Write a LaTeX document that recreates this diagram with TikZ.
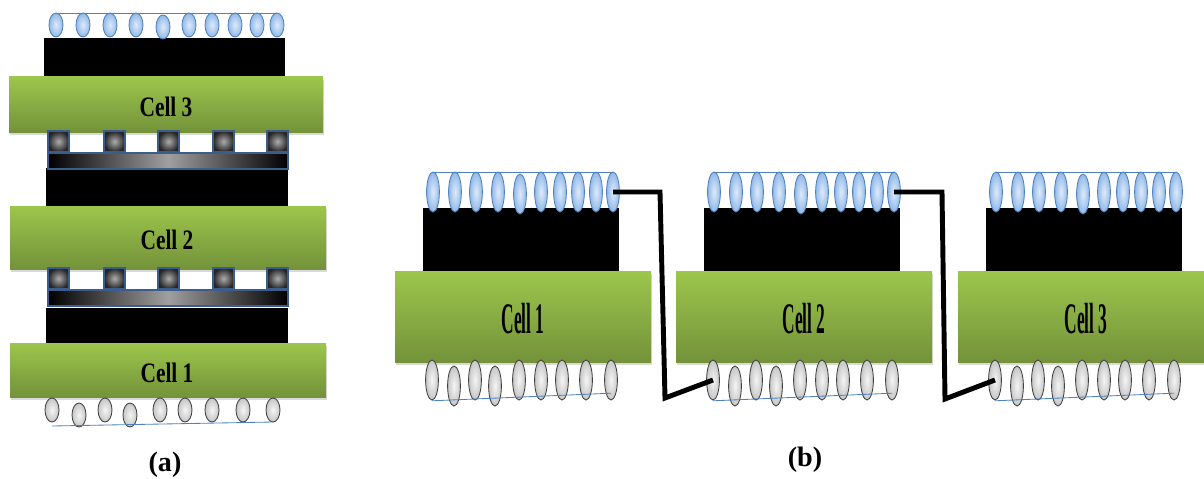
\documentclass[tikz,border=0pt]{standalone}
\usepackage{fontspec}
\setmainfont{Liberation Serif}
\usepackage{graphicx}
\usetikzlibrary{shapes.geometric, shadows}

\definecolor{cellgreen}{RGB}{156,198,76}
\definecolor{cellgreendark}{RGB}{116,146,58}
\definecolor{beadedge}{RGB}{79,129,189}
\definecolor{beadlight}{RGB}{222,234,250}
\definecolor{beaddark}{RGB}{145,185,232}
\definecolor{gridblue}{RGB}{60,92,140}

\begin{document}
\begin{tikzpicture}[
      x=0.025cm, y=-0.025cm,
      cellbar/.style={
        top color=cellgreen,
        bottom color=cellgreendark,
        drop shadow={shadow xshift=1pt, shadow yshift=-2pt, opacity=0.3}
      },
      bluebead/.style={
        ellipse, draw=beadedge, line width=0.6pt,
        inner color=beadlight, outer color=beaddark,
        inner sep=0pt, outer sep=0pt
      },
      graybead/.style={
        ellipse, draw=black!75, line width=0.6pt,
        inner color=gray!8, outer color=gray!45,
        inner sep=0pt, outer sep=0pt
      },
      beada/.style={minimum width=0.35cm, minimum height=0.6cm},
      beadb/.style={minimum width=0.32cm, minimum height=1cm},
      beadline/.style={draw=beadedge, line width=0.6pt},
      pad/.style={draw=gridblue, line width=2pt, inner color=gray!65, outer color=black!85},
      grid/.style={draw=gridblue, line width=2pt, left color=black, right color=black, middle color=gray!75},
      labela/.style={font=\fontsize{20}{20}\selectfont\bfseries},
      labelb/.style={font=\fontsize{31}{31}\selectfont\bfseries},
      wire/.style={line width=3.5pt, black, line join=miter}
    ]
    \useasboundingbox (0,0) rectangle (1204,479);

    % (a) cells stacked on top of each other
    \fill (44,38) rectangle (285,77);
    \fill (46,168) rectangle (288,206);
    \fill (46,308) rectangle (288,343);
    \path[cellbar] (9,77) rectangle (323,132);
    \path[cellbar] (10,206) rectangle (326,269);
    \path[cellbar] (10,343) rectangle (326,397);
    \node[labela] (cella3) at (166,107) {\scalebox{0.76}[1]{Cell 3}};
    \node[labela] (cella2) at (167,240) {\scalebox{0.76}[1]{Cell 2}};
    \node[labela] (cella1) at (167,373) {\scalebox{0.76}[1]{Cell 1}};

    % grid electrodes between the cells
    \foreach \y in {131,268} {
      \path[grid] (48,\y+22) rectangle (288,\y+38);
      \foreach \x in {48,104,158,213,267}
        \path[pad] (\x,\y) rectangle (\x+21,\y+21);
    }

    % beads on top and bottom of the stack
    \foreach \x/\y [count=\i] in {56/25,83/25,110/25,136/25,163/27,189/25,212/25,235/25,257/25,277/25}
      \node[bluebead, beada] (ta-\i) at (\x,\y) {};
    \draw[beadline] (ta-1.north) -- (ta-10.north);
    \foreach \x/\y [count=\i] in {52/410,79/415,105/410,130/415,160/410,185/410,212/410,243/410,273/410}
      \node[graybead, beada] (ba-\i) at (\x,\y) {};
    \draw[beadline] ([yshift=-0.1cm]ba-1.south) -- (ba-9.south);

    \node[font=\fontsize{20}{20}\selectfont\bfseries] (capa) at (165,465) {(a)};

    % (b) cells side by side
    \foreach \dx [count=\c] in {0,281,563} {
      \fill (423+\dx,208) rectangle (619+\dx,271);
      \path[cellbar] (395+\dx,271) rectangle (651+\dx,362);
      \node[labelb] (cellb\c) at (523+\dx,319) {\scalebox{0.4}[1]{Cell \c}};
      \foreach \x/\y [count=\i] in {433/192,455/192,476/192,498/192,520/194,541/192,560/192,578/192,596/192,613/192}
        \node[bluebead, beadb] (top\c-\i) at (\x+\dx,\y) {};
      \draw[beadline] (top\c-1.north) -- (top\c-10.north);
      \foreach \x/\y [count=\i] in {432/380,454/386,475/380,495/386,519/380,541/380,562/380,586/380,611/380}
        \node[graybead, beadb] (bot\c-\i) at (\x+\dx,\y) {};
      \draw[beadline] ([yshift=-0.02cm]bot\c-1.south) -- ([yshift=0.17cm]bot\c-9.south);
    }

    % series connection
    \coordinate (bend1a) at (660,193);
    \coordinate (bend1b) at (665,398);
    \coordinate (bend2a) at (942,193);
    \coordinate (bend2b) at (945,399);
    \draw[wire] (top1-10.center) -- (top1-10 -| bend1a) -- (bend1b) -- (bot2-1.center);
    \draw[wire] (top2-10.center) -- (top2-10 -| bend2a) -- (bend2b) -- (bot3-1.center);

    \node[font=\fontsize{20}{20}\selectfont\bfseries] (capb) at (805,460) {(b)};
  \end{tikzpicture}
\end{document}
